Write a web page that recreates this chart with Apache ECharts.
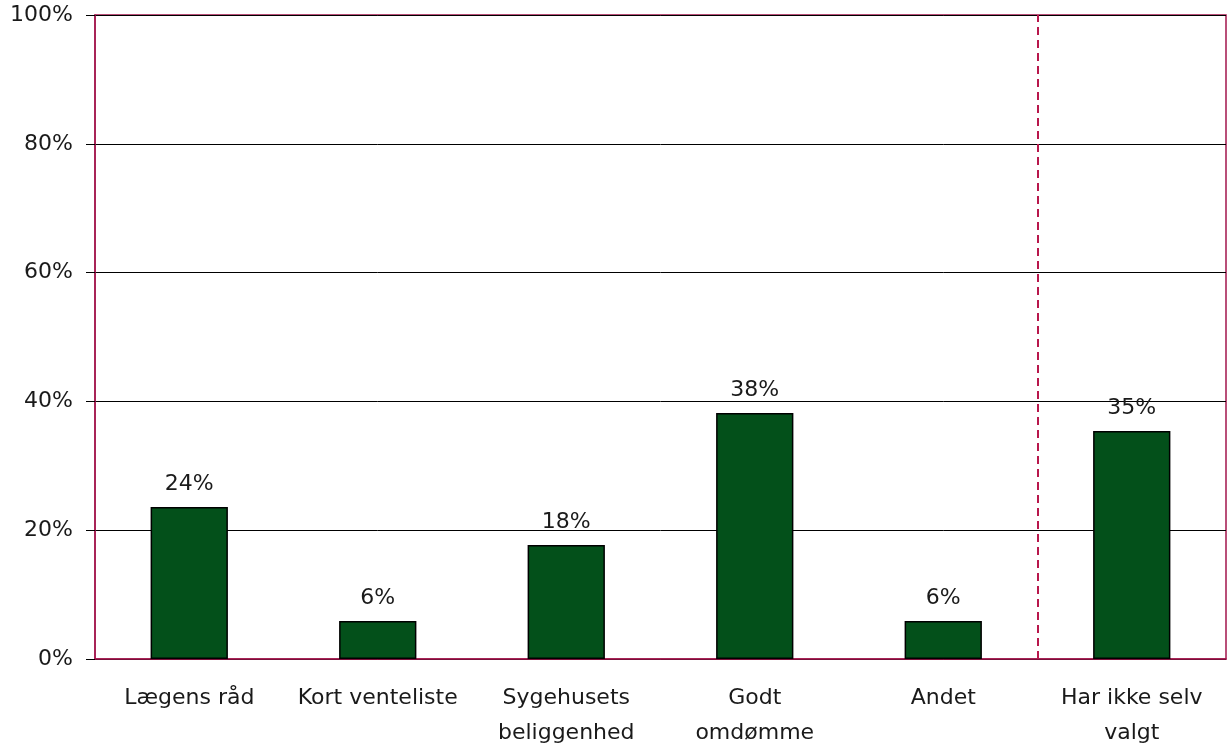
<!DOCTYPE html>
<html>
<head>
<meta charset="utf-8">
<script src="https://cdn.jsdelivr.net/npm/echarts@6/dist/echarts.min.js"></script>
<style>
html,body{margin:0;padding:0;background:#fff;}
#chart{width:1227px;height:751px;}
</style>
</head>
<body>
<div id="chart"></div>
<script>
// categories and values (percent)
var categories = ['Lægens råd', 'Kort venteliste', 'Sygehusets\nbeliggenhed', 'Godt\nomdømme', 'Andet', 'Har ikke selv\nvalgt'];
var values = [23.6, 5.9, 17.7, 38.2, 5.9, 35.4];
var yTicks = [0, 20, 40, 60, 80, 100];
var dividerAt = [5];

var crimson = '#a3164c';
var chart = echarts.init(document.getElementById('chart'));
chart.setOption({
    animation: false,
    textStyle: {fontFamily: 'DejaVu Sans'},
    grid: {
        left: 95, right: 1, top: 15, bottom: 92,
        show: true, borderColor: crimson, borderWidth: 1.5
    },
    xAxis: [
        {
            type: 'category',
            data: categories,
            axisLine: {lineStyle: {color: crimson, width: 1.5}},
            axisTick: {show: false},
            axisLabel: {color: '#1a1a1a', fontSize: 22, margin: 22, lineHeight: 35, interval: 0}
        },
        {
            type: 'value', min: 0, max: categories.length, show: false
        }
    ],
    yAxis: {
        type: 'value',
        min: yTicks[0], max: yTicks[yTicks.length - 1], interval: 20,
        axisLine: {show: true, lineStyle: {color: crimson, width: 1.5}},
        axisTick: {show: true, length: 9, lineStyle: {color: '#000'}},
        axisLabel: {color: '#1a1a1a', fontSize: 22, margin: 22, formatter: '{value}%'},
        splitLine: {lineStyle: {color: '#000', width: 1}}
    },
    series: [
        {
            type: 'bar',
            data: values,
            barWidth: '41%',
            itemStyle: {color: '#03501a', borderColor: '#000', borderWidth: 1.5},
            label: {
                show: true, position: 'top', distance: 12,
                color: '#1a1a1a', fontSize: 22,
                formatter: function (p) { return Math.round(p.value) + '%'; }
            }
        },
        {
            type: 'scatter',
            xAxisIndex: 1,
            data: [],
            markLine: {
                silent: true,
                symbol: 'none',
                label: {show: false},
                lineStyle: {color: '#b8174c', type: [8, 5], width: 2},
                data: dividerAt.map(function (v) { return {xAxis: v}; })
            }
        }
    ]
});
</script>
</body>
</html>
